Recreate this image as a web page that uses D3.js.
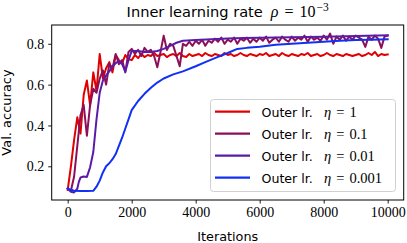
<!DOCTYPE html>
<html>
<head>
<meta charset="utf-8">
<script src="https://cdn.jsdelivr.net/npm/d3@7"></script>
<style>
  html, body { margin: 0; padding: 0; background: #fff; }
  svg { display: block; }
</style>
</head>
<body>
<div id="chart"></div>
<script>
// Itérations (pas de 100) pour les courbes bruitées
const iterStep100 = d3.range(0, 10001, 100);

const accEta1 = [
  0.085, 0.20, 0.33, 0.44, 0.36, 0.55, 0.62, 0.50, 0.66, 0.57,
  0.75, 0.63, 0.68, 0.71, 0.66, 0.745, 0.72, 0.705, 0.745, 0.725,
  0.72, 0.745, 0.73, 0.75, 0.735, 0.745, 0.74, 0.755, 0.74, 0.745,
  0.75, 0.735, 0.745, 0.75, 0.74, 0.755, 0.74, 0.735, 0.75, 0.74,
  0.745, 0.75, 0.74, 0.755, 0.745, 0.74, 0.75, 0.745, 0.74, 0.755,
  0.745, 0.75, 0.74, 0.745, 0.755, 0.745, 0.74, 0.75, 0.745, 0.74,
  0.75, 0.745, 0.755, 0.74, 0.745, 0.75, 0.74, 0.755, 0.745, 0.74,
  0.75, 0.745, 0.74, 0.75, 0.745, 0.755, 0.74, 0.745, 0.75, 0.74,
  0.745, 0.755, 0.745, 0.74, 0.75, 0.745, 0.74, 0.75, 0.745, 0.74,
  0.745, 0.75, 0.74, 0.745, 0.755, 0.745, 0.76, 0.74, 0.75, 0.745,
  0.748
];

const accEta01 = [
  0.09, 0.08, 0.15, 0.30, 0.45, 0.50, 0.35, 0.50, 0.58, 0.56,
  0.63, 0.67, 0.60, 0.70, 0.68, 0.75, 0.70, 0.72, 0.66, 0.76,
  0.775, 0.75, 0.77, 0.74, 0.78, 0.76, 0.77, 0.74, 0.685, 0.76,
  0.84, 0.77, 0.80, 0.79, 0.74, 0.69, 0.80, 0.79, 0.81, 0.79,
  0.815, 0.80, 0.82, 0.79, 0.815, 0.805, 0.825, 0.81, 0.83, 0.80,
  0.82, 0.81, 0.83, 0.80, 0.825, 0.815, 0.83, 0.805, 0.825, 0.81,
  0.83, 0.815, 0.835, 0.805, 0.82, 0.83, 0.81, 0.835, 0.82, 0.81,
  0.835, 0.815, 0.83, 0.82, 0.84, 0.81, 0.835, 0.82, 0.83, 0.815,
  0.84, 0.82, 0.85, 0.80, 0.835, 0.82, 0.84, 0.815, 0.835, 0.82,
  0.84, 0.83, 0.82, 0.785, 0.835, 0.82, 0.84, 0.825, 0.78, 0.835,
  0.84
];

// Courbes lisses : points relevés à pas irrégulier
const iterEta001 = [0, 100, 200, 300, 350, 400, 500, 600, 700, 800, 900, 1000, 1100, 1200, 1300, 1400, 1500, 1600, 1700, 1800, 1900, 2000, 2200, 2400, 2600, 2800, 3000, 3200, 3400, 3600, 4000, 4500, 5000, 5500, 6000, 7000, 8000, 9000, 10000];
const accEta001 = [0.09, 0.075, 0.072, 0.09, 0.125, 0.145, 0.15, 0.148, 0.195, 0.27, 0.43, 0.56, 0.62, 0.645, 0.665, 0.69, 0.705, 0.715, 0.70, 0.665, 0.72, 0.765, 0.765, 0.76, 0.76, 0.765, 0.775, 0.79, 0.805, 0.815, 0.818, 0.822, 0.826, 0.828, 0.83, 0.832, 0.835, 0.838, 0.842];

const iterEta0001 = [0, 100, 200, 400, 600, 800, 900, 1000, 1100, 1200, 1300, 1400, 1500, 1600, 1700, 1800, 1900, 2000, 2200, 2400, 2600, 2800, 3000, 3300, 3600, 4000, 4300, 4600, 5000, 5300, 5600, 6000, 6500, 7000, 7500, 8000, 8500, 9000, 9500, 10000];
const accEta0001 = [0.092, 0.085, 0.08, 0.079, 0.079, 0.08, 0.10, 0.13, 0.17, 0.20, 0.215, 0.235, 0.26, 0.30, 0.34, 0.385, 0.43, 0.475, 0.52, 0.555, 0.585, 0.61, 0.63, 0.65, 0.665, 0.69, 0.71, 0.73, 0.755, 0.775, 0.78, 0.785, 0.795, 0.80, 0.805, 0.81, 0.815, 0.818, 0.82, 0.822];

const etaLabels = ["1", "0.1", "0.01", "0.001"];
const lineColors = ["#e00000", "#8c0f5a", "#5a1ca8", "#1030f5"];

const xTicks = [0, 2000, 4000, 6000, 8000, 10000];
const yTicks = [0.2, 0.4, 0.6, 0.8];

const series = [
  { iters: iterStep100, acc: accEta1 },
  { iters: iterStep100, acc: accEta01 },
  { iters: iterEta001, acc: accEta001 },
  { iters: iterEta0001, acc: accEta0001 }
].map((s, i) => ({
  eta: etaLabels[i],
  color: lineColors[i],
  points: s.iters.map((it, j) => ({ it: it, v: s.acc[j] }))
}));

const W = 407, H = 243;
const plot = { left: 51.7, right: 403.7, top: 25, bottom: 200 };

const serifFont = "'Liberation Serif', 'DejaVu Serif', serif";
const sansFont = "'DejaVu Sans', sans-serif";

const svg = d3.select("#chart").append("svg")
  .attr("width", W)
  .attr("height", H);

const x = d3.scaleLinear().domain([-500, 10500]).range([plot.left, plot.right]);
const y = d3.scaleLinear().domain([0.035, 0.892]).range([plot.bottom, plot.top]);

// Zone de tracé
svg.append("clipPath").attr("id", "clip")
  .append("rect")
  .attr("x", plot.left).attr("y", plot.top)
  .attr("width", plot.right - plot.left).attr("height", plot.bottom - plot.top);

const line = d3.line().x(d => x(d.it)).y(d => y(d.v));

svg.append("g").attr("clip-path", "url(#clip)")
  .selectAll("path")
  .data(series)
  .join("path")
  .attr("d", d => line(d.points))
  .attr("fill", "none")
  .attr("stroke", d => d.color)
  .attr("stroke-width", 2)
  .attr("stroke-linejoin", "round")
  .attr("stroke-linecap", "square");

// Axes
const xAxis = svg.append("g")
  .attr("transform", `translate(0,${plot.bottom})`)
  .call(d3.axisBottom(x).tickValues(xTicks).tickFormat(d3.format("d")).tickSize(3.5).tickPadding(3.5));

const yAxis = svg.append("g")
  .attr("transform", `translate(${plot.left},0)`)
  .call(d3.axisLeft(y).tickValues(yTicks).tickFormat(d3.format(".1f")).tickSize(3.5).tickPadding(4));

[xAxis, yAxis].forEach(a => {
  a.select(".domain").remove();
  a.selectAll(".tick line").attr("stroke", "#000").attr("stroke-width", 0.9);
  a.selectAll(".tick text")
    .attr("fill", "#000")
    .style("font-family", serifFont)
    .style("font-size", "14px");
});
xAxis.selectAll(".tick text").attr("dy", "0.71em").attr("y", 7);
yAxis.selectAll(".tick text").attr("dy", "0.33em");

// Cadre
svg.append("rect")
  .attr("x", plot.left).attr("y", plot.top)
  .attr("width", plot.right - plot.left).attr("height", plot.bottom - plot.top)
  .attr("fill", "none")
  .attr("stroke", "#000")
  .attr("stroke-width", 1);

// Titre
const title = svg.append("text")
  .attr("x", (plot.left + plot.right) / 2)
  .attr("y", 17)
  .attr("text-anchor", "middle")
  .attr("fill", "#000");
title.append("tspan").style("font-family", sansFont).style("font-size", "14.6px").text("Inner learning rate");
title.append("tspan").attr("dx", 8).style("font-family", serifFont).style("font-style", "italic").style("font-size", "16px").text("ρ");
title.append("tspan").attr("dx", 6).style("font-family", serifFont).style("font-size", "16px").text("=");
title.append("tspan").attr("dx", 6).style("font-family", serifFont).style("font-size", "16px").text("10");
title.append("tspan").attr("dx", 1).attr("dy", -6).style("font-family", serifFont).style("font-size", "11.5px").text("−3");

// Libellés des axes
svg.append("text")
  .attr("x", (plot.left + plot.right) / 2)
  .attr("y", 240.5)
  .attr("text-anchor", "middle")
  .style("font-family", sansFont)
  .style("font-size", "12.8px")
  .text("Iterations");

svg.append("text")
  .attr("transform", `translate(11,${(plot.top + plot.bottom) / 2}) rotate(-90)`)
  .attr("text-anchor", "middle")
  .style("font-family", sansFont)
  .style("font-size", "13px")
  .text("Val. accuracy");

// Légende
const legend = svg.append("g");
legend.append("rect")
  .attr("x", 210.5).attr("y", 99.5)
  .attr("width", 185).attr("height", 92)
  .attr("rx", 3)
  .attr("fill", "#fff").attr("fill-opacity", 0.8)
  .attr("stroke", "#d0d0d0").attr("stroke-width", 1);

const rows = legend.selectAll("g.row")
  .data(series)
  .join("g")
  .attr("class", "row")
  .attr("transform", (d, i) => `translate(0,${111.7 + i * 22})`);

rows.append("line")
  .attr("x1", 215).attr("x2", 250)
  .attr("stroke", d => d.color)
  .attr("stroke-width", 2.2);

rows.append("text")
  .attr("x", 261.5).attr("y", 4.8)
  .style("font-family", sansFont).style("font-size", "12.6px")
  .text("Outer lr.");

const mathText = rows.append("text")
  .attr("x", 324).attr("y", 4.8)
  .style("font-family", serifFont).style("font-size", "14.5px");
mathText.append("tspan").style("font-style", "italic").text("η");
mathText.append("tspan").attr("dx", 5).text("=");
mathText.append("tspan").attr("dx", 5).text(d => d.eta);
</script>
</body>
</html>
